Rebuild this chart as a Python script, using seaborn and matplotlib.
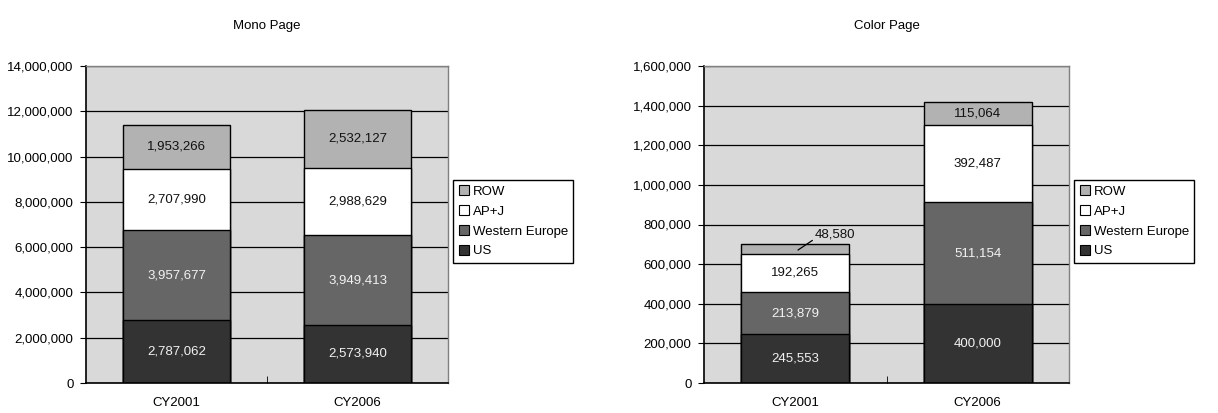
import seaborn as sns
import matplotlib.pyplot as plt
import pandas as pd
from matplotlib.patches import Patch
from matplotlib.ticker import FuncFormatter, MultipleLocator

# data
categories = ["CY2001", "CY2006"]
regions = ["US", "Western Europe", "AP+J", "ROW"]

mono_us = [2787062, 2573940]
mono_we = [3957677, 3949413]
mono_apj = [2707990, 2988629]
mono_row = [1953266, 2532127]

color_us = [245553, 400000]
color_we = [213879, 511154]
color_apj = [192265, 392487]
color_row = [48580, 115064]

fills = {"US": "#333333", "Western Europe": "#666666", "AP+J": "#ffffff", "ROW": "#b2b2b2"}
text_cols = {"US": "#f2f2f2", "Western Europe": "#f2f2f2", "AP+J": "#111111", "ROW": "#111111"}

plt.rcParams["font.family"] = ["Liberation Sans", "DejaVu Sans"]
plt.rcParams["font.size"] = 9.5


def draw_panel(ax, title, layers, ymax, step, small=None):
    df = pd.DataFrame(layers, index=categories)
    cum = df.cumsum(axis=1)
    ax.set_facecolor("#d9d9d9")
    ax.set_axisbelow(True)
    ax.yaxis.grid(True, color="black", linewidth=0.9)
    # draw cumulative totals from the top layer down so they overlap as a stack
    for reg in reversed(regions):
        sns.barplot(x=categories, y=cum[reg].values, color=fills[reg], width=0.59,
                    edgecolor="black", linewidth=1, saturation=1, ax=ax)
    for i, cat in enumerate(categories):
        for reg in regions:
            v = df.loc[cat, reg]
            if small is not None and (cat, reg) == small:
                ax.annotate(f"{v:,}", xy=(i + 0.015, cum.loc[cat, reg] - v * 0.6),
                            xytext=(i + 0.22, cum.loc[cat, reg] + 47000),
                            ha="center", va="center", color=text_cols[reg],
                            arrowprops=dict(arrowstyle="-", color="black", lw=0.9,
                                            shrinkA=0, shrinkB=0, relpos=(0.0, 0.2)))
                continue
            ax.text(i, cum.loc[cat, reg] - v / 2, f"{v:,}", ha="center", va="center",
                    color=text_cols[reg])
    ax.set_xlim(-0.5, 1.5)
    ax.set_ylim(0, ymax)
    ax.yaxis.set_major_locator(MultipleLocator(step))
    ax.yaxis.set_major_formatter(FuncFormatter(lambda v, p: f"{v:,.0f}"))
    ax.set_xlabel("")
    ax.set_ylabel("")
    ax.set_title(title, pad=27, fontsize=9.5)
    ax.tick_params(axis="y", length=4, color="black", pad=5)
    ax.tick_params(axis="x", length=0, pad=10)
    ax.set_xticks([0.5], minor=True)
    ax.tick_params(axis="x", which="minor", direction="in", length=5, color="black")
    for s in ["left", "bottom"]:
        ax.spines[s].set_color("black")
        ax.spines[s].set_linewidth(1.2)
    for s in ["top", "right"]:
        ax.spines[s].set_color("#808080")
        ax.spines[s].set_linewidth(1)
    handles = [Patch(facecolor=fills[r], edgecolor="black", linewidth=0.8, label=r)
               for r in reversed(regions)]
    leg = ax.legend(handles=handles, loc="center left", bbox_to_anchor=(1.015, 0.51),
                    frameon=True, fancybox=False, edgecolor="black", framealpha=1,
                    handlelength=0.8, handleheight=0.8, handletextpad=0.25,
                    labelspacing=0.55, borderpad=0.4, borderaxespad=0)
    leg.get_frame().set_linewidth(1)


fig = plt.figure(figsize=(12.18, 4.13), dpi=100)
ax1 = fig.add_axes([86 / 1218, 30 / 413, 362 / 1218, 317 / 413])
ax2 = fig.add_axes([704 / 1218, 30 / 413, 365 / 1218, 317 / 413])

draw_panel(ax1, "Mono Page",
           {"US": mono_us, "Western Europe": mono_we, "AP+J": mono_apj, "ROW": mono_row},
           14000000, 2000000)
draw_panel(ax2, "Color Page",
           {"US": color_us, "Western Europe": color_we, "AP+J": color_apj, "ROW": color_row},
           1600000, 200000, small=("CY2001", "ROW"))

fig.savefig("out.png", dpi=100)
